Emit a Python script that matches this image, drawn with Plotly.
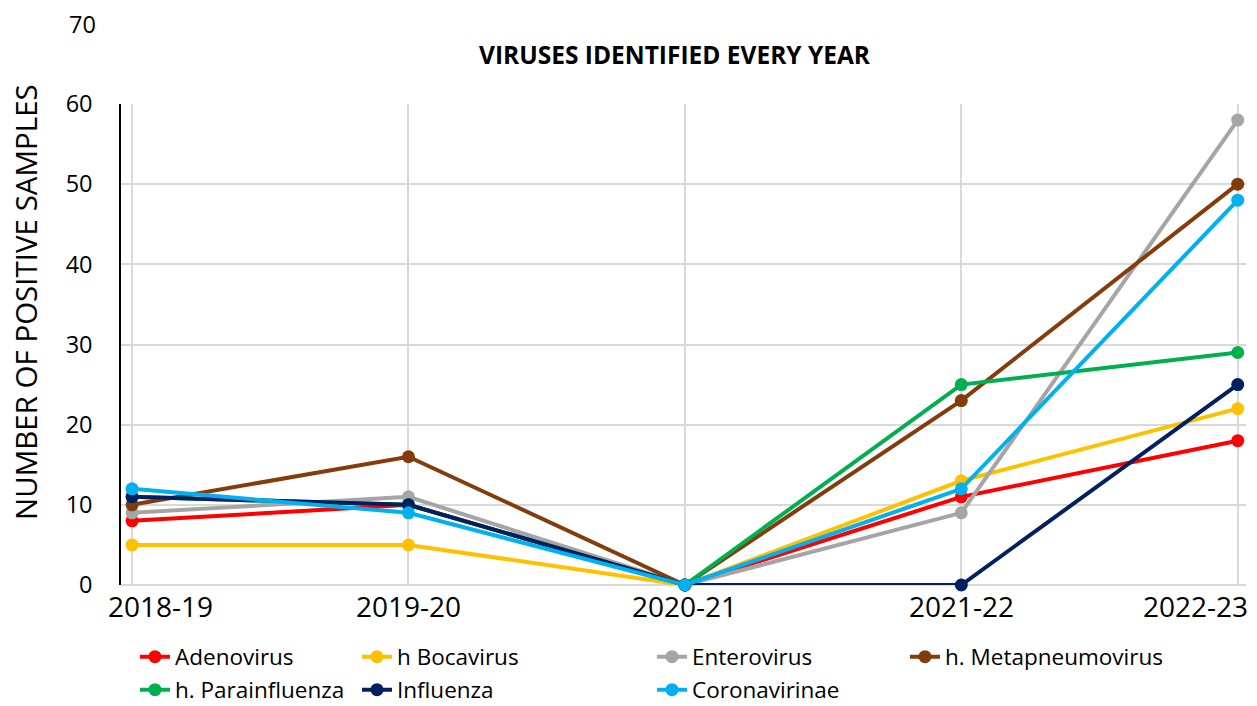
import plotly.graph_objects as go

years = ["2018-19", "2019-20", "2020-21", "2021-22", "2022-23"]
series_names = ["Adenovirus", "h Bocavirus", "Enterovirus", "h. Metapneumovirus",
                "h. Parainfluenza", "Influenza", "Coronavirinae"]
adenovirus = [8, 10, 0, 11, 18]
bocavirus = [5, 5, 0, 13, 22]
enterovirus = [9, 11, 0, 9, 58]
metapneumovirus = [10, 16, 0, 23, 50]
parainfluenza = [11, 10, 0, 25, 29]
influenza = [11, 10, 0, 0, 25]
coronavirinae = [12, 9, 0, 12, 48]
values = [adenovirus, bocavirus, enterovirus, metapneumovirus,
          parainfluenza, influenza, coronavirinae]
colors = ["#FF0000", "#FFC000", "#A5A5A5", "#843C0C", "#00B050", "#002060", "#00B0F0"]
y_ticks = [0, 10, 20, 30, 40, 50, 60]

FONT = "Open Sans"
W, H = 1257, 706
ML, MR, MT, MB = 121, 11, 104, 121
PW, PH = W - ML - MR, H - MT - MB


def px_x(px):
    return (px - ML) / PW


def px_y(py):
    return (H - MB - py) / PH


# legend positions (left x, center y) in pixels
legend_pos = [(135, 657), (357, 657), (652, 657), (905, 657),
              (135, 690), (357, 690), (652, 690)]

fig = go.Figure()
legend_layout = {}
for i, (name, vals, col) in enumerate(zip(series_names, values, colors)):
    lname = "legend" if i == 0 else f"legend{i+1}"
    fig.add_trace(go.Scatter(
        x=list(range(len(years))), y=vals, name=name, mode="lines+markers",
        line=dict(color=col, width=4), marker=dict(color=col, size=13),
        legend=lname, cliponaxis=False,
    ))
    lx, ly = legend_pos[i]
    legend_layout[lname] = dict(
        xref="container", yref="container",
        x=lx / W, y=1 - ly / H, xanchor="left", yanchor="middle",
        bgcolor="rgba(0,0,0,0)", font=dict(family=FONT, size=22.5, color="#000000"),
        itemwidth=30,
    )

# x tick labels as annotations (edge labels shifted inward like the original)
x_label_anchor = ["left", "center", "center", "center", "right"]
x_label_shift = [-26, 0, 0, 0, 12]
annotations = []
for i, (lab, anc, sh) in enumerate(zip(years, x_label_anchor, x_label_shift)):
    annotations.append(dict(
        text=lab, xref="x", yref="paper", x=i, y=px_y(606), xanchor=anc,
        yanchor="middle", xshift=sh, showarrow=False,
        font=dict(family=FONT, size=28, color="#000000")))

annotations += [
    dict(text="70", xref="paper", yref="paper", x=px_x(98), y=px_y(24),
         xanchor="right", yanchor="middle", showarrow=False,
         font=dict(family=FONT, size=23.5, color="#000000")),
    dict(text="<b>VIRUSES IDENTIFIED EVERY YEAR</b>", xref="paper", yref="paper",
         x=px_x(675), y=px_y(54), xanchor="center", yanchor="middle",
         showarrow=False, font=dict(family=FONT, size=24.5, color="#000000")),
    dict(text="NUMBER OF POSITIVE SAMPLES", xref="paper", yref="paper",
         x=px_x(25), y=px_y(302), xanchor="center", yanchor="middle",
         textangle=-90, showarrow=False,
         font=dict(family=FONT, size=29.5, color="#000000")),
]

fig.update_layout(
    width=W, height=H,
    margin=dict(l=ML, r=MR, t=MT, b=MB, autoexpand=False),
    paper_bgcolor="white", plot_bgcolor="white",
    font=dict(family=FONT, color="#000000"),
    showlegend=True,
    **legend_layout,
    xaxis=dict(
        range=[-0.04, 4.03], tickvals=list(range(len(years))), ticktext=years,
        showticklabels=False,
        showgrid=True, gridcolor="#D9D9D9", gridwidth=1.5,
        zeroline=False, showline=False, ticks="",
    ),
    yaxis=dict(
        range=[0, 60], tickvals=y_ticks,
        showgrid=True, gridcolor="#D9D9D9", gridwidth=1.5,
        zeroline=True, zerolinecolor="#D9D9D9", zerolinewidth=1.5,
        showline=True, linecolor="#000000", linewidth=1.5,
        ticks="", ticklabelstandoff=22,
        tickfont=dict(family=FONT, size=23.5, color="#000000"),
    ),
    annotations=annotations,
)

fig.write_html("out.html")
